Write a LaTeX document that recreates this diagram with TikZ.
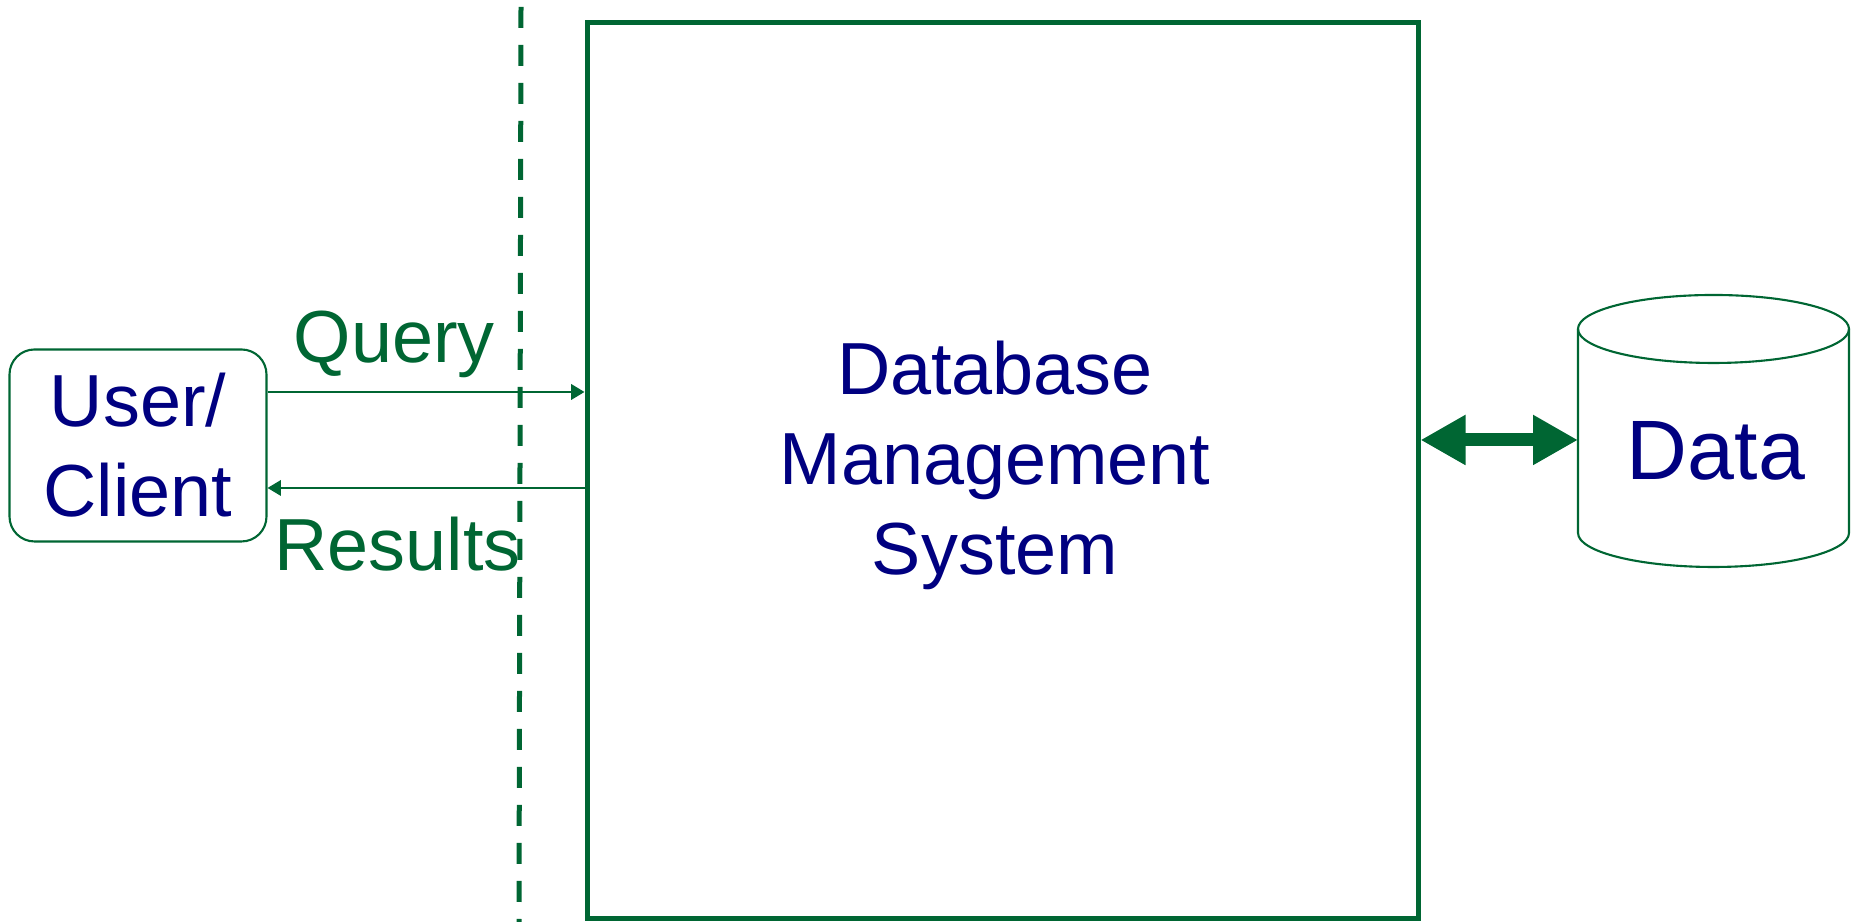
\documentclass[tikz,border=0pt]{standalone}
\usepackage{fontspec}
\setmainfont{Liberation Sans}
\usepackage{xcolor}
\usetikzlibrary{arrows.meta, positioning, calc}
\definecolor{dbgreen}{RGB}{0,102,51}
\definecolor{dbnavy}{RGB}{0,0,128}

\begin{document}
\begin{tikzpicture}[>={Triangle[length=3.8pt, width=4.4pt]},
		font=\fontsize{21}{25.6}\selectfont,
		box/.style={draw=dbgreen, line width=0.6pt, text=dbnavy, align=center},
		flow/.style={->, draw=dbgreen, line width=0.6pt},
		link/.style={>={Triangle[length=0.45cm, width=0.47cm]}, <->, draw=dbgreen, line width=0.13cm},
		lbl/.style={text=dbgreen, anchor=base},
		store/.style={draw=dbgreen, line width=0.6pt}]
			\useasboundingbox (0,0) rectangle (18.56,9.22);
			\draw[dbgreen, line width=0.05cm, dash pattern=on 0.21cm off 0.17cm] (5.21,9.15) -- (5.19,0);
			\node[box, rounded corners=0.25cm, minimum width=2.57cm, minimum height=1.92cm] (client) at (1.38,4.765) {User/\\Client};
			\node[box, line width=0.05cm, minimum width=8.31cm, minimum height=8.96cm] (dbms) at (10.025,4.51) {};
			\node[text=dbnavy, align=center] (dbmstext) at ([xshift=-0.075cm, yshift=0.06cm]dbms.center) {Database\\Management\\System};
			\coordinate (qin) at ([yshift=0.535cm]client.east);
			\coordinate (rin) at ([yshift=-0.425cm]client.east);
			\draw[flow] (qin) -- (qin -| dbms.west)
			node[lbl, pos=0.4, yshift=0.29cm] (querylbl) {Query};
			\draw[flow] (rin -| dbms.west) -- (rin)
			node[lbl, pos=0.59, yshift=-0.83cm] (resultslbl) {Results};
			\coordinate (top) at (17.135,5.93);
			\coordinate (bot) at (17.135,3.89);
			\draw[store] (top) ellipse [x radius=1.355, y radius=0.34];
			\draw[store] ([xshift=-1.355cm]top) -- ([xshift=-1.355cm]bot)
			arc[start angle=180, end angle=360, x radius=1.355, y radius=0.34] -- ([xshift=1.355cm]top);
			\node[text=dbnavy, font=\fontsize{24}{28}\selectfont] (data) at (17.16,4.71) {Data};
			\coordinate (dbwall) at (15.78,4.82);
			\draw[link] (dbwall -| dbms.east) -- (dbwall);
		\end{tikzpicture}
\end{document}
